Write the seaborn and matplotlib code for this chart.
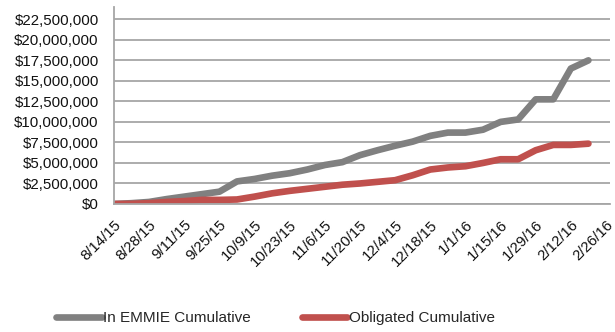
import matplotlib
matplotlib.use("Agg")
import matplotlib.pyplot as plt
import matplotlib.dates as mdates
import numpy as np
import pandas as pd
import seaborn as sns

# Weekly reporting dates
week_dates = pd.date_range("2015-08-14", "2016-02-19", freq="7D")

# Cumulative dollar amounts (millions)
in_emmie = [0.0, 0.1, 0.25, 0.6, 0.9, 1.2, 1.5, 2.75, 3.05, 3.45, 3.75, 4.2, 4.75, 5.1,
            5.95, 6.55, 7.1, 7.6, 8.3, 8.7, 8.7, 9.05, 10.0, 10.3, 12.75, 12.75, 16.5, 17.5]
obligated = [0.0, 0.02, 0.1, 0.25, 0.35, 0.5, 0.5, 0.55, 0.9, 1.3, 1.6, 1.85, 2.1, 2.35,
             2.5, 2.7, 2.9, 3.5, 4.2, 4.45, 4.6, 5.0, 5.45, 5.45, 6.55, 7.2, 7.2, 7.35]

series_names = ["In EMMIE Cumulative", "Obligated Cumulative"]
series_colors = ["#808080", "#C0504D"]

tick_dates = pd.date_range("2015-08-14", "2016-02-26", freq="14D")
tick_labels = ["8/14/15", "8/28/15", "9/11/15", "9/25/15", "10/9/15", "10/23/15", "11/6/15",
               "11/20/15", "12/4/15", "12/18/15", "1/1/16", "1/15/16", "1/29/16", "2/12/16",
               "2/26/16"]
y_ticks = np.arange(0, 22.5e6 + 1, 2.5e6)

df = pd.DataFrame({
    "date": list(week_dates) * 2,
    "value": [v * 1e6 for v in in_emmie] + [v * 1e6 for v in obligated],
    "series": [series_names[0]] * len(week_dates) + [series_names[1]] * len(week_dates),
})

sns.set_style("white")
plt.rcParams["font.family"] = ["Liberation Sans", "DejaVu Sans"]

fig = plt.figure(figsize=(6.15, 3.32), dpi=100)
ax = fig.add_axes([114 / 615, 1 - 204 / 332, (610 - 114) / 615, (204 - 7) / 332])

sns.lineplot(data=df, x="date", y="value", hue="series", palette=series_colors,
             linewidth=4.8, ax=ax, legend=False, solid_capstyle="round")

grid_c = "#A6A6A6"
ax.set_ylim(0, 24.0e6)
ax.set_yticks(y_ticks)
ax.set_yticklabels([f"${v:,.0f}" for v in y_ticks], fontsize=10.8)
ax.yaxis.grid(True, color=grid_c, linewidth=1.3)
ax.set_axisbelow(True)

x0 = mdates.date2num(pd.Timestamp("2015-08-14"))
ax.set_xlim(x0, x0 + 197.6)
ax.set_xticks(tick_dates)
ax.set_xticklabels(tick_labels, rotation=45, ha="right", rotation_mode="anchor", fontsize=10.8)
ax.set_xlabel("")
ax.set_ylabel("")

for side in ["top", "right"]:
    ax.spines[side].set_visible(False)
for side in ["left", "bottom"]:
    ax.spines[side].set_color(grid_c)
    ax.spines[side].set_linewidth(1.3)
ax.tick_params(axis="both", which="both", direction="out", length=5, width=1.3,
               color=grid_c, labelcolor="#111111")
ax.tick_params(axis="y", pad=6)
ax.tick_params(axis="x", pad=5)

handles = [plt.Line2D([], [], color=c, linewidth=4.8, solid_capstyle="round") for c in series_colors]
fig.legend(handles, series_names, loc="center", bbox_to_anchor=(0.448, 1 - 318 / 332),
           ncol=2, frameon=False, fontsize=11, handlelength=3.0, handletextpad=0.1,
           columnspacing=3.3)

fig.savefig("out.png", dpi=100)
